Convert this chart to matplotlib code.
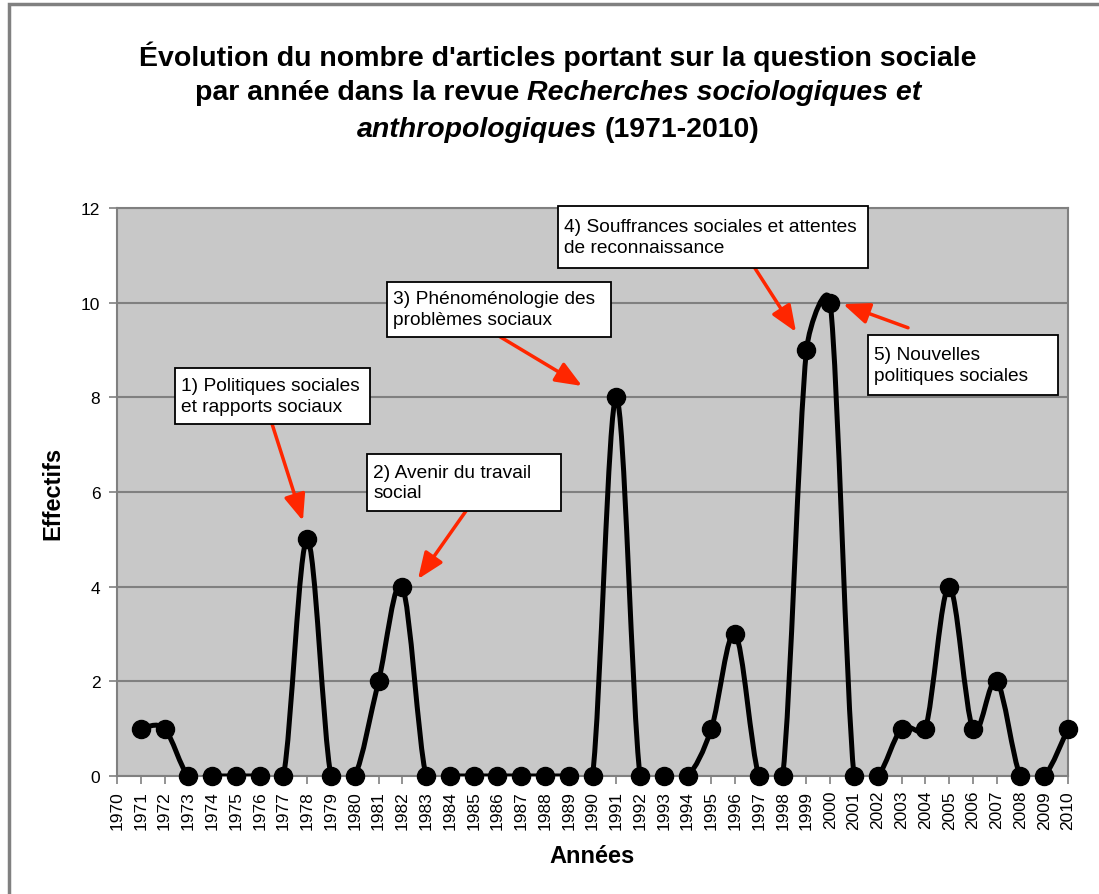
import matplotlib
matplotlib.use("Agg")
import matplotlib.pyplot as plt
import numpy as np
from matplotlib.path import Path
from matplotlib.patches import PathPatch, Rectangle

plt.rcParams['font.family'] = ['Liberation Sans', 'DejaVu Sans']

# ---- data ----
years = list(range(1971, 2011))
counts = [1, 1, 0, 0, 0, 0, 0, 5, 0, 0,
          2, 4, 0, 0, 0, 0, 0, 0, 0, 0,
          8, 0, 0, 0, 1, 3, 0, 0, 9, 10,
          0, 0, 1, 1, 4, 1, 2, 0, 0, 1]
tick_years = list(range(1970, 2011))
yticks = [0, 2, 4, 6, 8, 10, 12]

notes = [
    "1) Politiques sociales\net rapports sociaux",
    "2) Avenir du travail\nsocial",
    "3) Phénoménologie des\nproblèmes sociaux",
    "4) Souffrances sociales et attentes\nde reconnaissance",
    "5) Nouvelles\npolitiques sociales",
]
# box extents (x0, x1, y_bottom, y_top) in data units
note_boxes = [
    (1972.44, 1980.64, 7.44, 8.62),
    (1980.52, 1988.68, 5.60, 6.80),
    (1981.36, 1990.78, 9.28, 10.44),
    (1988.55, 2001.59, 10.73, 12.04),
    (2001.59, 2009.58, 8.05, 9.32),
]
arrows = [
    ((1976.52, 7.44), (1977.82, 5.39)),
    ((1984.68, 5.60), (1982.66, 4.16)),
    ((1986.11, 9.28), (1989.56, 8.24)),
    ((1996.83, 10.73), (1998.56, 9.38)),
    ((2003.27, 9.47), (2000.54, 9.97)),
]

W, H = 1099, 895
fig = plt.figure(figsize=(W / 100, H / 100), dpi=100)
fig.patch.set_facecolor('white')

# outer frame
fig.add_artist(Rectangle((9 / W, -0.1), 1.2, 1 - 5 / H + 0.1, transform=fig.transFigure,
                         fill=False, ec='#808080', lw=2.5))

ax = fig.add_axes([117 / W, 1 - 777 / H, (1068 - 117) / W, (777 - 209) / H])
ax.set_facecolor('#c8c8c8')
ax.set_xlim(1970, 2010)
ax.set_ylim(0, 12)
ax.set_yticks(yticks)
ax.set_xticks(tick_years)
ax.set_xticklabels([str(y) for y in tick_years], rotation=90)
ax.tick_params(axis='both', labelsize=12.5, length=6, width=1.2, color='#808080', direction='out')
ax.tick_params(axis='x', pad=4)
ax.tick_params(axis='y', pad=6)
for s in ax.spines.values():
    s.set_color('#808080')
    s.set_linewidth(1.5)
ax.yaxis.grid(True, color='#808080', lw=1.5)
ax.set_axisbelow(True)

# smoothed line: Bezier segments with tension 1/6, limited to half the segment length
xs = np.array(years, dtype=float)
ys = np.array(counts, dtype=float)
sx, sy = 23.775, 47.33  # px per unit for distance measurement
P = np.column_stack([xs, ys])
n = len(P)
verts = [tuple(P[0])]
codes = [Path.MOVETO]
f = 1.0 / 6.0
def dist(a, b):
    return np.hypot((a[0] - b[0]) * sx, (a[1] - b[1]) * sy)
for i in range(n - 1):
    p0 = P[i - 1] if i > 0 else P[i]
    p1 = P[i]
    p2 = P[i + 1]
    p3 = P[i + 2] if i + 2 < n else P[i + 1]
    d02, d12, d13 = dist(p0, p2), dist(p1, p2), dist(p1, p3)
    f1 = f if d02 * f < d12 / 2 else d12 / d02 / 2
    f2 = f if d13 * f < d12 / 2 else d12 / d13 / 2
    c1 = p1 + (p2 - p0) * f1
    c2 = p2 - (p3 - p1) * f2
    verts += [tuple(c1), tuple(c2), tuple(p2)]
    codes += [Path.CURVE4] * 3
ax.add_patch(PathPatch(Path(verts, codes), fill=False, ec='black', lw=3.6, zorder=3,
                       capstyle='round', joinstyle='round'))
ax.plot(years, counts, linestyle='none', marker='o', ms=13, color='black', zorder=4, clip_on=False)

# annotations
for txt, (x0, x1, yb, yt), ((ax0, ay0), (ax1, ay1)) in zip(notes, note_boxes, arrows):
    ax.add_patch(Rectangle((x0, yb), x1 - x0, yt - yb, fc='white', ec='black', lw=1.3,
                           zorder=6, clip_on=False))
    ax.text(x0 + 0.25, (yb + yt) / 2, txt, ha='left', va='center', fontsize=13.8,
            linespacing=1.3, zorder=7, clip_on=False)
    ax.annotate('', xy=(ax1, ay1), xytext=(ax0, ay0), zorder=5,
                arrowprops=dict(arrowstyle='-|>,head_length=1.6,head_width=0.65',
                                color='#ff2600', lw=2.5, shrinkA=0, shrinkB=0))

ax.set_ylabel('Effectifs', fontsize=17, fontweight='bold', labelpad=12)
ax.set_xlabel('Années', fontsize=17, fontweight='bold', labelpad=11)

# title with mixed italic
renderer = fig.canvas.get_renderer()
title_lines = [
    ([("Évolution du nombre d'articles portant sur la question sociale", 'normal')], 66),
    ([("par année dans la revue", 'normal'), ("Recherches sociologiques et", 'italic')], 100),
    ([("anthropologiques", 'italic'), ("(1971-2010)", 'normal')], 137),
]
fs = 20.5
tmp = fig.text(0, 0, "a a", fontsize=fs, fontweight='bold')
w_with = tmp.get_window_extent(renderer).width
tmp.set_text("aa")
w_without = tmp.get_window_extent(renderer).width
tmp.remove()
space = w_with - w_without
cx = 558
for pieces, ypix in title_lines:
    ts = [fig.text(0, 1 - ypix / H, s, fontsize=fs, fontweight='bold', fontstyle=st,
                   ha='left', va='baseline') for s, st in pieces]
    ws = [t.get_window_extent(renderer).width for t in ts]
    total = sum(ws) + space * (len(ts) - 1)
    x = cx - total / 2
    for t, w in zip(ts, ws):
        t.set_x(x / W)
        x += w + space

fig.savefig('out.png', dpi=100)
